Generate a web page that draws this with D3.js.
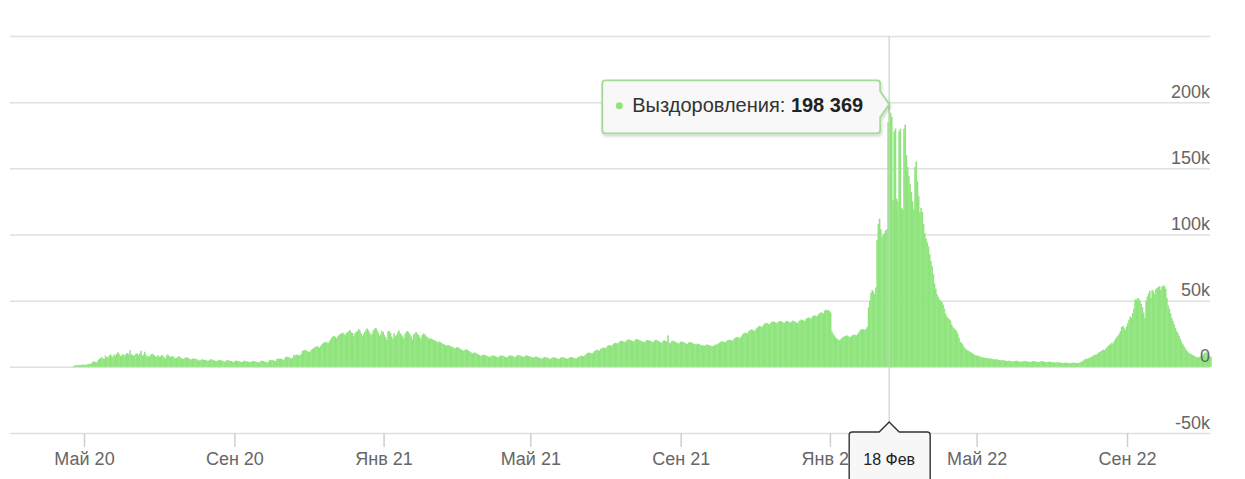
<!DOCTYPE html>
<meta charset="utf-8">
<style>
body { margin: 0; background: #fff; }
svg { display: block; font-family: "Liberation Sans", Arial, sans-serif; }
.grid line { stroke: #e0e0e0; stroke-width: 1.5px; }
.grid .domain, .ylabels .domain, .ylabels line { display: none; }
.ylabels text { fill: #666; font-size: 18px; }
.xaxis line { stroke: #cfcfcf; stroke-width: 1.5px; }
.xaxis text { fill: #666; font-size: 18px; }
.xaxis .domain { display: none; }
.bar { fill: #8fe47d; }
</style>
<body>
<svg id="chart" width="1245" height="479"></svg>
<script src="https://cdn.jsdelivr.net/npm/d3@7"></script>
<script>

// daily recoveries, thousands. 2020 starts on 22 Apr
var recov2020 = [
  0.8,1.0,1.2,1.1,1.3,1.5,1.4,1.6,1.7,
  1.6,1.6,1.8,2.2,2.0,2.5,3.0, 4.2,4.0,3.5,3.6,5.0,6.1,6.7, 7.2,6.3,6.0,8.5,7.4,7.0,8.4, 9.4,8.1,7.5,9.3,8.3,9.8,11.0, 10.0,8.5,8.0,
  9.6,8.7,8.8,10.0,10.5,9.2,12.5, 9.5,9.0,8.3,8.9,10.1,9.9,8.8, 10.0,12.1,8.4,9.1,11.4,9.2,8.0, 8.0,7.7,9.2,9.8,9.4,8.5,7.6, 7.7,8.8,
  7.5,8.0,9.1,8.3,7.2,6.3,8.7, 9.3,8.2,7.3,7.9,8.1,7.0,6.4, 6.8,7.3,8.1,7.2,6.6,5.9,6.2, 7.0,6.9,7.2,6.5,5.8,5.5,6.0, 6.4,6.1,5.9,
  5.6,4.9,4.8,5.2,5.8,5.1,5.4, 5.2,4.7,4.3,5.2,5.8,5.5,4.9, 5.0,4.4,4.2,5.1,4.9,5.3,4.7, 4.5,4.0,3.9,5.0,5.1,4.8,4.4, 4.3,3.8,3.6,
  4.6,4.7,4.3,4.2,4.0,3.7,3.6, 4.7,4.4,4.1,4.0,3.9,3.5,3.5, 4.4,4.3,4.1,3.9,3.7,3.2,3.4, 4.5,4.6,4.4,4.0,3.6,3.3,3.5, 4.9,5.2,
  5.0,5.1,4.6,4.3,5.8,6.1,6.2, 6.2,6.0,5.2,5.6,7.0,7.8,7.3, 7.2,6.8,6.2,6.9,9.0,8.5,9.3, 9.0,8.9,8.5,9.5,12.0,12.4,12.8, 12.5,12.0,11.2,
  11.5,12.4,13.5,14.0,14.7,15.2,15.6, 15.1,14.5,15.8,17.0,17.8,18.4,18.9, 18.4,17.8,19.0,20.5,22.0,23.0,23.4, 22.6,21.5,23.0,24.2,24.8,25.3,25.8, 24.9,23.8,
  25.5,26.2,27.0,27.8,26.0,25.5,23.0, 25.3,26.3,27.0,28.5,27.5,25.5,23.1, 24.7,26.4,28.0,29.0,27.6,25.8,24.0, 25.0,27.5,28.7,29.4,28.0,26.0,23.6, 24.5,27.0,26.4
];

var recov2021 = [
  24.0,22.5,20.5,26.8,27.2,25.6,22.8, 21.0,25.3,23.0,24.1,26.0,27.5,25.4, 24.3,23.0,21.5,25.0,26.4,27.1,25.8, 24.4,22.8,20.6,24.7,25.3,26.3,25.1, 24.0,22.6,20.9,
  24.0,25.2,24.6,23.5,22.6,21.8,20.9, 21.6,21.0,20.5,20.0,19.6,19.0,18.3, 19.2,18.6,17.9,17.3,16.9,16.4,15.8, 16.6,16.2,15.7,15.2,14.9,14.3,13.8,
  14.6,14.9,14.2,13.6,13.0,12.6,12.1, 12.8,13.2,12.7,12.0,11.4,10.8,10.2, 10.6,10.9,10.3,9.8,9.3,8.8,8.4, 8.7,9.2,9.0,8.6,8.2,7.8,7.4, 7.9,8.5,8.4,
  8.4,8.0,7.6,7.2,7.7,8.6,8.5, 8.3,7.9,7.4,7.0,7.6,8.4,8.6, 8.5,8.1,7.7,7.1,7.9,8.9,8.8, 8.6,8.2,7.8,7.3,8.0,8.7,8.5, 8.2,7.6,
  7.6,7.2,6.8,7.4,7.9,7.5,7.1, 6.8,6.4,6.1,6.9,7.5,7.3,7.0, 6.6,6.2,5.9,6.7,7.3,7.1,6.8, 6.5,6.1,5.9,6.8,7.4,7.2,7.0, 6.7,6.3,6.0,
  6.8,7.2,7.4,7.1,6.7,6.4,6.3, 7.0,7.6,8.0,8.4,8.2,8.0,8.6, 9.5,10.3,10.8,10.7,10.3,10.0,10.8, 11.9,12.6,12.9,12.5,12.2,13.5,14.2, 14.6,14.4,
  14.0,15.2,16.0,16.5,16.2,15.8,17.0, 17.8,18.2,17.9,17.5,18.6,19.4,19.7, 19.4,19.0,18.6,19.9,20.5,20.7,20.3, 19.9,19.5,19.0,20.2,21.0,20.8,20.4, 20.0,19.6,19.2,
  18.8,18.5,19.9,20.3,20.1,19.8,19.4, 18.9,18.6,19.8,20.5,20.1,19.5,19.0, 18.4,18.1,19.6,20.0,19.6,19.1,23.8, 18.2,17.9,19.3,19.8,19.5,18.8,18.4, 17.9,17.5,18.8,
  19.2,18.9,18.5,18.0,17.6,17.2,18.4, 18.8,18.4,17.9,17.5,17.1,16.8,17.6, 17.3,16.8,16.5,16.3,16.1,15.9,16.6, 16.9,16.5,16.2,15.9,15.8,15.6,16.4, 16.8,16.9,
  17.5,18.2,18.9,19.3,19.1,18.8,18.5, 19.6,20.2,20.5,20.3,20.0,19.7,21.2, 22.0,22.6,22.4,22.1,21.8,23.0,24.5, 25.3,25.9,25.6,25.2,26.8,27.6,28.3, 28.0,27.6,27.0,
  28.5,29.6,30.4,31.0,30.6,30.1,31.5, 32.6,33.2,33.0,32.5,32.0,33.3,34.0, 34.3,34.0,33.5,32.9,33.8,34.5,34.7, 34.2,33.6,33.0,34.1,34.8,34.5,33.9, 33.3,34.2,
  34.9,34.6,34.1,33.5,33.0,34.4,35.2, 35.8,35.5,35.0,34.6,36.2,37.0,37.3, 36.9,36.4,37.8,38.6,38.9,38.5,38.0, 39.6,40.4,41.2,40.8,40.3,42.5,43.2, 42.8,43.0,42.1
];

var recov2022 = [
  41.0,26.8,25.0,23.6,22.3,21.4,20.6, 20.0,20.5,21.6,22.4,22.9,23.3,23.8, 23.4,22.8,22.3,23.1,23.9,24.4,24.1, 23.7,24.6,26.0,27.4,28.2,28.6,28.3, 27.9,28.8,30.4,
  45,50,56,58,57,55,60, 96,108,112,104,98,100,101, 103,104,185,198.369,192,189,126, 178,180,127,125,178,180,120,
  119,180,183,160,151,144,138, 132,125,119,151,155,140,129, 117,120,117,108,101,97,94, 91,85,80,76,70,63,59, 55,53,51,
  50,49,47,44,40,38,37, 36,35,32,30,29,28,27, 25,22,19,18,17,15,14, 13,12.5,12,11.2,10.8,10.2,9.5, 9.0,8.7,
  8.5,8.2,7.9,7.5,7.2,7.0,6.8, 6.9,6.6,6.3,6.5,6.2,5.9,5.7, 5.5,5.8,5.6,5.3,5.1,4.9,5.0, 5.2,4.8,4.6,4.4,4.5,4.7,4.3, 4.1,4.0,4.2,
  4.4,4.6,4.3,4.1,3.9,3.8,4.0, 4.3,4.5,4.2,4.0,3.8,3.7,3.9, 4.2,4.4,4.1,3.9,3.7,3.6,3.8, 4.1,4.3,4.0,3.8,3.6,3.5,3.7, 3.9,3.8,
  3.6,3.4,3.3,3.2,3.4,3.5,3.3, 3.1,3.0,2.9,3.0,3.2,3.1,3.0, 2.8,2.7,2.9,3.1,3.2,3.0,2.9, 3.0,2.8,3.3,3.8,4.3,5.0,5.6, 6.2,6.0,6.5,
  7.0,7.4,8.0,8.6,9.2,9.0,9.6, 10.5,11.2,11.8,12.4,13.0,12.5,13.6, 14.8,15.8,16.6,17.4,18.2,17.5,19.4, 21.0,22.5,23.5,25.0,27.0,30.2,31.0, 29.5,27.8,30.5,
  33.0,35.5,38.0,37.0,40.5,44.0,51.0, 50.5,52.0,51.5,50.0,47.5,45.0,41.0, 37.0,50.0,53.0,55.5,57.5,52.0,58.0, 57.0,55.0,58.5,59.5,60.5,61.0,58.0, 60.5,61.5,
  61.0,59.0,52.0,46.5,44.0,40.5,37.0, 34.5,32.0,29.5,27.0,25.5,23.5,21.0, 19.0,17.0,15.5,14.0,12.5,11.5,10.5, 10.0,9.5,9.0,8.5,8.0,7.5,7.0, 7.3,7.6,7.8,
  8.5,9.5,10.5,11.0,10.0,9.0,8.0,7.5
];

var seriesStarts = [Date.UTC(2020, 3, 22), Date.UTC(2021, 0, 1), Date.UTC(2022, 0, 1)];

var tickDates = [Date.UTC(2020,4,1), Date.UTC(2020,8,1), Date.UTC(2021,0,1), Date.UTC(2021,4,1),
                 Date.UTC(2021,8,1), Date.UTC(2022,0,1), Date.UTC(2022,4,1), Date.UTC(2022,8,1)];
var tickLabels = ["Май 20", "Сен 20", "Янв 21", "Май 21", "Сен 21", "Янв 22", "Май 22", "Сен 22"];

var yTicks = [-50, 0, 50, 100, 150, 200, 250];
var yLabels = ["-50k", "0", "50k", "100k", "150k", "200k", ""];

var monthShort = ["Янв","Фев","Мар","Апр","Май","Июн","Июл","Авг","Сен","Окт","Ноя","Дек"];
var seriesName = "Выздоровления";

// flatten to daily records
var data = [];
[recov2020, recov2021, recov2022].forEach(function(arr, k) {
  arr.forEach(function(v, i) {
    data.push({ date: new Date(seriesStarts[k] + i * 864e5), value: v });
  });
});

var svg = d3.select("#chart");

var x = d3.scaleUtc()
    .domain([new Date(tickDates[0]), new Date(tickDates[7])])
    .range([84, 1127]);

var y = d3.scaleLinear()
    .domain([-50, 250])
    .range([433, 36]);

// gridlines
var grid = svg.append("g")
    .attr("class", "grid")
    .attr("transform", "translate(1210,0)")
    .call(d3.axisLeft(y)
        .tickValues(yTicks)
        .tickSize(1200)
        .tickFormat(""));
grid.selectAll("line").attr("x2", -1200);

// bars
var dayMs = 864e5;
svg.append("g").selectAll("rect")
    .data(data)
  .enter().append("rect")
    .attr("class", "bar")
    .attr("x", function(d) { return x(d.date); })
    .attr("width", function(d) { return x(new Date(+d.date + dayMs)) - x(d.date) + 0.35; })
    .attr("y", function(d) { return y(d.value); })
    .attr("height", function(d) { return y(0) - y(d.value); });

// y labels above the bars
var yl = svg.append("g")
    .attr("class", "ylabels")
    .attr("transform", "translate(1210,0)")
    .call(d3.axisLeft(y)
        .tickValues(yTicks)
        .tickSize(0)
        .tickPadding(0)
        .tickFormat(function(d, i) { return yLabels[i]; }));
yl.selectAll("text").attr("x", 0).attr("dy", -5);

// x axis
var xa = svg.append("g")
    .attr("class", "xaxis")
    .attr("transform", "translate(0,433)")
    .call(d3.axisBottom(x)
        .tickValues(tickDates.map(function(t) { return new Date(t); }))
        .tickSize(14)
        .tickPadding(0)
        .tickFormat(function(d, i) { return tickLabels[i]; }));
xa.selectAll("text").attr("y", 32).attr("dy", 0);

// hovered point = the peak
var peak = d3.greatest(data, function(d) { return d.value; });
var cx = x(peak.date) + (x(new Date(+peak.date + dayMs)) - x(peak.date)) / 2;
var py = y(peak.value);

svg.append("line")
    .attr("x1", cx).attr("x2", cx)
    .attr("y1", y(250)).attr("y2", 422)
    .attr("stroke", "#cfcfcf")
    .attr("stroke-width", 1.2);

// tooltip
var defs = svg.append("defs");
var f = defs.append("filter").attr("id", "shadow").attr("x", "-10%").attr("y", "-30%").attr("width", "120%").attr("height", "170%");
f.append("feDropShadow").attr("dx", 1).attr("dy", 2).attr("stdDeviation", 1.5)
    .attr("flood-color", "#000").attr("flood-opacity", 0.18);

var tip = svg.append("g");
var tipPath = tip.append("path")
    .attr("fill", "#f8f8f8")
    .attr("stroke", "#a3da97")
    .attr("stroke-width", 1.8)
    .attr("filter", "url(#shadow)");

var fmt = function(v) { return d3.format(",")(Math.round(v * 1000)).replace(/,/g, " "); };
var tipText = tip.append("text")
    .attr("y", py + 8)
    .attr("font-size", 20)
    .attr("fill", "#333");
tipText.append("tspan").text(seriesName + ": ");
tipText.append("tspan").attr("font-weight", "bold").attr("fill", "#222").text(fmt(peak.value));

var textLen = tipText.node().getComputedTextLength();
var boxR = cx - 9, boxT = py - 24, boxB = py + 29;
var boxL = boxR - (textLen + 30 + 17);
tipText.attr("x", boxL + 30);
tip.append("circle")
    .attr("cx", boxL + 17).attr("cy", py + 1.5).attr("r", 3.5)
    .attr("fill", "#8fe47d");
tipPath.attr("d",
    "M" + (boxL + 3) + "," + boxT + "H" + (boxR - 3) + "Q" + boxR + "," + boxT + " " + boxR + "," + (boxT + 3) +
    "V" + (py - 13) + "L" + cx + "," + py + "L" + boxR + "," + (py + 13) +
    "V" + (boxB - 3) + "Q" + boxR + "," + boxB + " " + (boxR - 3) + "," + boxB +
    "H" + (boxL + 3) + "Q" + boxL + "," + boxB + " " + boxL + "," + (boxB - 3) +
    "V" + (boxT + 3) + "Q" + boxL + "," + boxT + " " + (boxL + 3) + "," + boxT + "Z");

// date flag under the axis
var flag = svg.append("g");
flag.append("path")
    .attr("fill", "#f7f7f7")
    .attr("stroke", "#333")
    .attr("stroke-width", 1.4)
    .attr("d", "M" + (cx - 37) + ",432H" + (cx - 10) + "L" + cx + ",422L" + (cx + 10) + ",432H" + (cx + 38) +
        "Q" + (cx + 41) + ",432 " + (cx + 41) + ",435V485H" + (cx - 40) + "V435Q" + (cx - 40) + ",432 " + (cx - 37) + ",432Z");
flag.append("text")
    .attr("x", cx).attr("y", 465)
    .attr("text-anchor", "middle")
    .attr("font-size", 16)
    .attr("fill", "#222")
    .text(peak.date.getUTCDate() + " " + monthShort[peak.date.getUTCMonth()]);

</script>
</body>
